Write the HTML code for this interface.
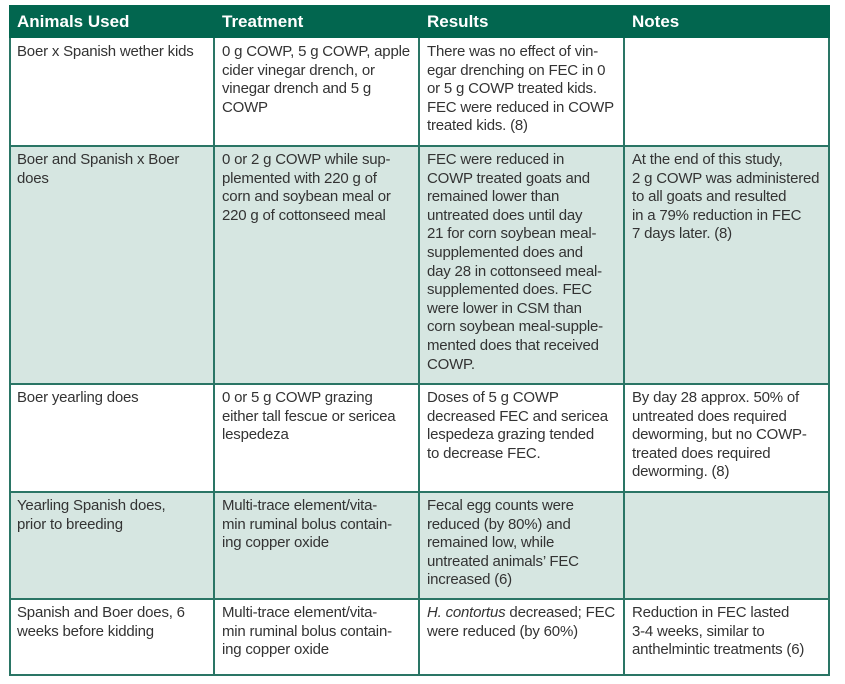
<!DOCTYPE html>
<html><head><meta charset="utf-8"><style>
body{margin:0;width:845px;height:684px;background:#fff;position:relative;overflow:hidden;font-family:"Liberation Sans",sans-serif;}
.c{position:absolute;box-sizing:border-box;width:204px;overflow:hidden;padding:5px 0 0 8px;font-size:15px;line-height:18.6px;color:#333;white-space:nowrap;letter-spacing:-0.2px}
.h{position:absolute;top:5px;height:33px;background:#02664f;color:#fff;font-weight:bold;font-size:17px;line-height:34px;padding-left:8px;box-sizing:border-box}
.g{position:absolute;background:#d6e6e1}
.hl{position:absolute;left:9px;width:821px;height:2px;background:#2a7565}
.vl{position:absolute;top:38px;height:638px;width:2px;background:#2a7565}
</style></head><body>
<div class="h" style="left:9px;width:821px"></div>
<div class="h" style="left:9px;width:205px">Animals Used</div>
<div class="h" style="left:214px;width:205px">Treatment</div>
<div class="h" style="left:419px;width:205px">Results</div>
<div class="h" style="left:624px;width:205px">Notes</div>
<div class="g" style="left:9px;top:146px;width:821px;height:238px"></div>
<div class="g" style="left:9px;top:492px;width:821px;height:107px"></div>

<div class="c" style="left:9px;top:38px">Boer x Spanish wether kids</div>
<div class="c" style="left:214px;top:38px">0 g COWP, 5 g COWP, apple<br>cider vinegar drench, or<br>vinegar drench and 5 g<br>COWP</div>
<div class="c" style="left:419px;top:38px">There was no effect of vin-<br>egar drenching on FEC in 0<br>or 5 g COWP treated kids.<br>FEC were reduced in COWP<br>treated kids. (8)</div>

<div class="c" style="left:9px;top:146px">Boer and Spanish x Boer<br>does</div>
<div class="c" style="left:214px;top:146px">0 or 2 g COWP while sup-<br>plemented with 220 g of<br>corn and soybean meal or<br>220 g of cottonseed meal</div>
<div class="c" style="left:419px;top:146px">FEC were reduced in<br>COWP treated goats and<br>remained lower than<br>untreated does until day<br>21 for corn soybean meal-<br>supplemented does and<br>day 28 in cottonseed meal-<br>supplemented does. FEC<br>were lower in CSM than<br>corn soybean meal-supple-<br>mented does that received<br>COWP.</div>
<div class="c" style="left:624px;top:146px">At the end of this study,<br>2 g COWP was administered<br>to all goats and resulted<br>in a 79% reduction in FEC<br>7 days later. (8)</div>

<div class="c" style="left:9px;top:384px">Boer yearling does</div>
<div class="c" style="left:214px;top:384px">0 or 5 g COWP grazing<br>either tall fescue or sericea<br>lespedeza</div>
<div class="c" style="left:419px;top:384px">Doses of 5 g COWP<br>decreased FEC and sericea<br>lespedeza grazing tended<br>to decrease FEC.</div>
<div class="c" style="left:624px;top:384px">By day 28 approx. 50% of<br>untreated does required<br>deworming, but no COWP-<br>treated does required<br>deworming. (8)</div>

<div class="c" style="left:9px;top:492px">Yearling Spanish does,<br>prior to breeding</div>
<div class="c" style="left:214px;top:492px">Multi-trace element/vita-<br>min ruminal bolus contain-<br>ing copper oxide</div>
<div class="c" style="left:419px;top:492px">Fecal egg counts were<br>reduced (by 80%) and<br>remained low, while<br>untreated animals’ FEC<br>increased (6)</div>

<div class="c" style="left:9px;top:599px">Spanish and Boer does, 6<br>weeks before kidding</div>
<div class="c" style="left:214px;top:599px">Multi-trace element/vita-<br>min ruminal bolus contain-<br>ing copper oxide</div>
<div class="c" style="left:419px;top:599px"><i>H. contortus</i> decreased; FEC<br>were reduced (by 60%)</div>
<div class="c" style="left:624px;top:599px">Reduction in FEC lasted<br>3-4 weeks, similar to<br>anthelmintic treatments (6)</div>

<div class="hl" style="top:145px"></div>
<div class="hl" style="top:383px"></div>
<div class="hl" style="top:491px"></div>
<div class="hl" style="top:598px"></div>
<div class="hl" style="top:674px"></div>
<div class="vl" style="left:9px"></div>
<div class="vl" style="left:213px"></div>
<div class="vl" style="left:418px"></div>
<div class="vl" style="left:623px"></div>
<div class="vl" style="left:828px"></div>
</body></html>
